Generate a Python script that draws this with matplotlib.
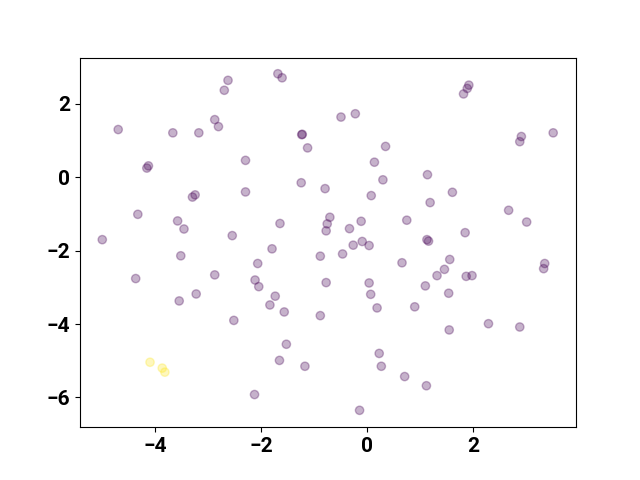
import matplotlib
matplotlib.use("Agg")
import matplotlib.pyplot as plt
import numpy as np

x_vals = [-4.69, -4.99, -3.66, -3.17, -2.87, -2.80, -2.62, -2.69, -1.68, -1.60,
          -1.23, -1.22, -1.12, -4.12, -4.15, -2.29, -3.24, -3.29, -2.29, -1.24,
          -0.79, -4.32, -3.57, -3.45, -1.64, -2.54, -1.79, -0.70, -0.75, -0.77,
          1.92, 1.89, 1.82, -0.49, -0.22, 2.91, 2.88, 3.51, 0.35, 0.14,
          0.30, 1.14, 0.08, 1.61, 1.19, 2.67, 3.01, 1.85, 0.75, -0.11,
          -0.33, 1.13, 1.16, -0.26, -0.09, 0.04, -3.51, -4.36, -2.87, -3.54,
          -3.22, -2.51, -2.06, -0.88, -2.11, -2.04, -0.77, -1.73, -1.83, -1.56,
          -0.88, -1.52, -1.65, -1.17, -2.12, -0.46, 0.66, 1.56, 1.46, 1.32,
          1.87, 1.98, 3.35, 3.33, 0.04, 0.07, 1.10, 1.54, 0.19, 0.90,
          2.29, 2.88, 1.55, 0.23, 0.27, 0.71, 1.12, -0.14,
          -4.09, -3.86, -3.81]
y_vals = [1.30, -1.70, 1.21, 1.21, 1.57, 1.38, 2.64, 2.37, 2.82, 2.71,
          1.16, 1.17, 0.80, 0.31, 0.25, 0.46, -0.48, -0.54, -0.40, -0.15,
          -0.31, -1.01, -1.19, -1.41, -1.26, -1.59, -1.95, -1.09, -1.27, -1.46,
          2.51, 2.42, 2.27, 1.64, 1.73, 1.11, 0.97, 1.21, 0.84, 0.41,
          -0.07, 0.07, -0.50, -0.41, -0.69, -0.90, -1.22, -1.51, -1.17, -1.20,
          -1.40, -1.70, -1.74, -1.85, -1.75, -1.86, -2.14, -2.76, -2.66, -3.37,
          -3.18, -3.90, -2.35, -2.15, -2.80, -2.98, -2.87, -3.24, -3.48, -3.67,
          -3.77, -4.55, -4.99, -5.15, -5.92, -2.09, -2.33, -2.24, -2.51, -2.68,
          -2.70, -2.68, -2.35, -2.49, -2.88, -3.19, -2.96, -3.16, -3.56, -3.53,
          -3.99, -4.08, -4.16, -4.80, -5.15, -5.43, -5.68, -6.35,
          -5.04, -5.20, -5.31]
labels = [0] * 98 + [1] * 3

fig, ax = plt.subplots(figsize=(6.4, 4.8), dpi=100)
ax.scatter(x_vals, y_vals, c=labels, cmap="viridis", alpha=0.3)
ax.set_xlim(-5.41, 3.94)
ax.set_ylim(-6.81, 3.26)
ax.set_xticks([-4, -2, 0, 2])
ax.set_yticks([-6, -4, -2, 0, 2])
for lab in ax.get_xticklabels() + ax.get_yticklabels():
    lab.set_fontfamily("Roboto")
    lab.set_fontweight("bold")
    lab.set_fontsize(15)
fig.savefig("out.png", dpi=100)
